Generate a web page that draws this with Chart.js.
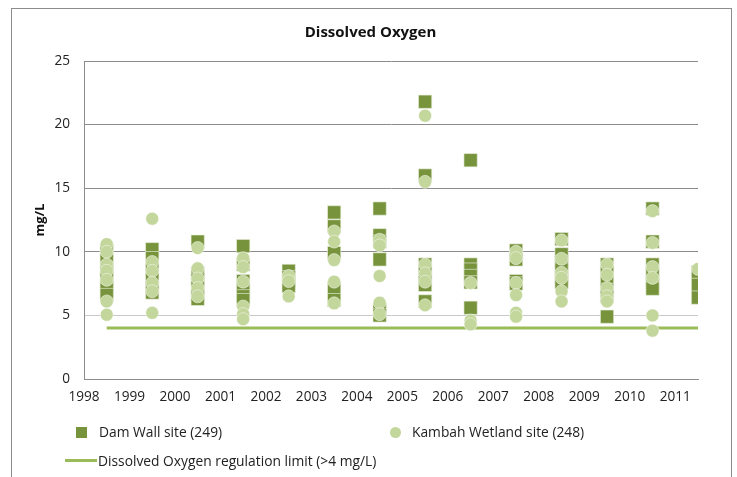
<!DOCTYPE html>
<html>
<head>
<meta charset="utf-8">
<script src="https://cdn.jsdelivr.net/npm/chart.js@4"></script>
<style>
  body { margin:0; background:#fff; font-family:"Open Sans", sans-serif; }
  #wrap { position:relative; width:737px; height:477px; }
  #frame { position:absolute; left:11px; top:8px; width:719px; height:480px; border:1px solid #8c8c8c; }
  canvas { position:absolute; left:0; top:0; }
  .title { position:absolute; left:0; width:741px; top:21px; text-align:center; font-size:15px; font-weight:bold; color:#111; }
  .leg { position:absolute; font-size:13.8px; color:#222; white-space:nowrap; }
  .sq { position:absolute; width:11px; height:11px; background:#77933C; }
  .ci { position:absolute; width:11px; height:11px; border-radius:50%; background:#C3D69B; }
  .ln { position:absolute; width:32px; height:3px; background:#9BBB59; }
</style>
</head>
<body>
<div id="wrap">
  <div id="frame"></div>
  <canvas id="chart1" width="737" height="477"></canvas>
  <div class="title">Dissolved Oxygen</div>
  <div class="sq" style="left:76px;top:427px"></div>
  <div class="leg" style="left:99px;top:422px">Dam Wall site (249)</div>
  <div class="ci" style="left:390px;top:427px"></div>
  <div class="leg" style="left:412px;top:422px">Kambah Wetland site (248)</div>
  <div class="ln" style="left:65px;top:459px"></div>
  <div class="leg" style="left:98px;top:451px">Dissolved Oxygen regulation limit (&gt;4 mg/L)</div>
</div>
<script>
// years are plotted at mid-year (year + 0.5)
var yearTicks = [1998,1999,2000,2001,2002,2003,2004,2005,2006,2007,2008,2009,2010,2011]
var yTicks = [0,5,10,15,20,25]

// Dam Wall site
var damX = [
  1998.5,1998.5,1998.5,1998.5,1998.5,1998.5,1998.5,
  1999.5,1999.5,1999.5,1999.5,1999.5,1999.5,
  2000.5,2000.5,2000.5,2000.5,2000.5,2000.5,
  2001.5,2001.5,2001.5,2001.5,2001.5,2001.5,2001.5,
  2002.5,2002.5,2002.5,2002.5,
  2003.5,2003.5,2003.5,2003.5,2003.5,
  2004.5,2004.5,2004.5,2004.5,2004.5,2004.5,
  2005.5,2005.5,2005.5,2005.5,2005.5,2005.5,2005.5,
  2006.5,2006.5,2006.5,2006.5,2006.5,2006.5,
  2007.5,2007.5,2007.5,2007.5,
  2008.5,2008.5,2008.5,2008.5,2008.5,2008.5,
  2009.5,2009.5,2009.5,2009.5,2009.5,2009.5,
  2010.5,2010.5,2010.5,2010.5,2010.5,2010.5,
  2011.5,2011.5,2011.5
]
var damY = [
  10.1,9.3,8.7,8.0,7.4,7.0,6.6,
  10.2,9.5,8.6,7.8,7.2,6.8,
  10.8,8.3,7.8,7.2,6.6,6.3,
  10.45,9.0,7.7,7.2,6.8,6.5,6.2,
  8.5,8.0,7.6,7.3,
  13.1,12.0,9.9,7.15,6.2,
  13.4,11.3,10.8,9.4,5.5,5.0,
  21.8,16.0,9.0,8.5,7.9,7.4,6.1,
  17.2,9.0,8.6,8.1,7.6,5.6,
  10.1,9.4,7.7,7.5,
  11.0,9.8,9.2,8.6,8.0,7.6,
  9.0,8.4,7.8,7.0,6.5,4.9,
  13.4,10.8,9.0,8.3,7.6,7.1,
  8.4,7.4,6.4
]

// Kambah Wetland site
var kamX = [
  1998.5,1998.5,1998.5,1998.5,1998.5,1998.5,1998.5,
  1999.5,1999.5,1999.5,1999.5,1999.5,1999.5,
  2000.5,2000.5,2000.5,2000.5,2000.5,
  2001.5,2001.5,2001.5,2001.5,2001.5,2001.5,
  2002.5,2002.5,2002.5,
  2003.5,2003.5,2003.5,2003.5,2003.5,
  2004.5,2004.5,2004.5,2004.5,2004.5,
  2005.5,2005.5,2005.5,2005.5,2005.5,2005.5,
  2006.5,2006.5,2006.5,
  2007.5,2007.5,2007.5,2007.5,2007.5,2007.5,
  2008.5,2008.5,2008.5,2008.5,2008.5,2008.5,
  2009.5,2009.5,2009.5,2009.5,2009.5,
  2010.5,2010.5,2010.5,2010.5,2010.5,2010.5,
  2011.5
]
var kamY = [
  10.6,10.0,9.0,8.5,7.8,6.1,5.05,
  12.6,9.2,8.5,7.55,6.9,5.2,
  10.3,8.7,7.9,7.15,6.5,
  9.5,8.8,7.65,5.7,5.1,4.7,
  8.1,7.7,6.5,
  11.6,10.8,9.35,7.65,5.95,
  10.95,10.5,8.1,6.0,5.1,
  20.7,15.5,9.0,8.3,7.65,5.8,
  7.55,4.6,4.3,
  10.0,9.5,7.55,6.6,5.2,4.9,
  10.9,9.45,8.35,7.95,6.9,6.1,
  9.0,8.2,7.15,6.5,6.1,
  13.2,10.7,8.8,7.95,5.0,3.8,
  8.65
]

// regulation limit
var limitX = [1998.5, 2011.5]
var limitY = [4, 4]

function pts(xs, ys){
  var out = []
  for (var i = 0; i < xs.length; i++){
    out.push({x: xs[i], y: ys[i]})
  }
  return out
}

const chart1 = document.getElementById("chart1")
new Chart(chart1, {
  type: 'scatter',
  data: {
    datasets: [{
      label: 'Kambah Wetland site (248)',
      data: pts(kamX, kamY),
      pointStyle: 'circle',
      pointRadius: 6.5,
      backgroundColor: '#C3D69B',
      borderColor: 'rgba(255,255,255,0.6)',
      borderWidth: 0.8,
      order: 0
    }, {
      label: 'Dam Wall site (249)',
      data: pts(damX, damY),
      pointStyle: 'rect',
      pointRadius: 9.4,
      backgroundColor: '#77933C',
      borderColor: 'rgba(235,241,222,0.8)',
      borderWidth: 0.8,
      order: 1
    }, {
      label: 'Dissolved Oxygen regulation limit (>4 mg/L)',
      type: 'line',
      data: pts(limitX, limitY),
      borderColor: '#9BBB59',
      borderWidth: 3,
      pointRadius: 0,
      showLine: true,
      order: 2
    }]
  },
  options: {
    responsive: false,
    animation: false,
    layout: { padding: { left: 32, right: 39, top: 61, bottom: 0 } },
    plugins: {
      legend: { display: false },
      tooltip: { enabled: false },
      title: { display: false }
    },
    scales: {
      x: {
        type: 'linear',
        min: 1998,
        max: 2011.5,
        afterBuildTicks: function(axis){ axis.ticks = yearTicks.map(v => ({value: v})) },
        afterFit: function(axis){ axis.height = 98 },
        grid: { display: false, drawTicks: false },
        border: { color: '#8c8c8c' },
        ticks: {
          autoSkip: false,
          maxRotation: 0,
          padding: 10,
          color: '#222',
          font: { family: 'Open Sans', size: 13.6 },
          callback: v => String(v)
        }
      },
      y: {
        min: 0,
        max: 25,
        afterBuildTicks: function(axis){ axis.ticks = yTicks.map(v => ({value: v})) },
        afterFit: function(axis){ axis.width = 52 },
        title: {
          display: true,
          text: 'mg/L',
          color: '#111',
          font: { family: 'Open Sans', size: 13, weight: 'bold' },
          padding: { top: 0, bottom: 0 }
        },
        grid: {
          drawTicks: false,
          color: ctx => (ctx.tick && ctx.tick.value === 5) ? '#c8c8c8' : '#8c8c8c'
        },
        border: { color: '#8c8c8c' },
        ticks: {
          padding: 14,
          color: '#222',
          font: { family: 'Open Sans', size: 13.6 }
        }
      }
    }
  }
});
</script>
</body>
</html>
